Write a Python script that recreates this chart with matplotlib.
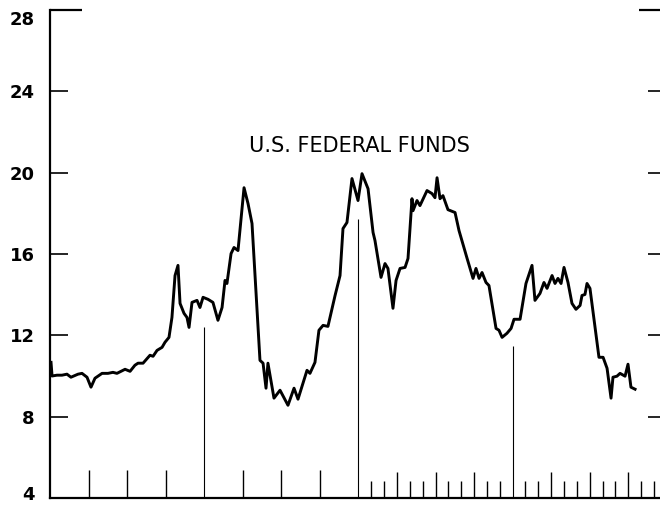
import matplotlib
matplotlib.use("Agg")
import matplotlib.pyplot as plt
import matplotlib.transforms as mtransforms
import numpy as np

# month index (0 = left axis) and rate
months = [0.08, 0.16, 0.54, 0.93, 1.32, 1.63, 2.18, 2.49, 2.88, 3.19, 3.50, 4.05,
          4.51, 4.90, 5.21, 5.84, 6.23, 6.61, 6.85, 7.24, 7.78, 8.02, 8.33, 8.72,
          8.95, 9.26, 9.49, 9.73, 9.96, 10.12, 10.43, 10.66, 10.82, 11.05, 11.44,
          11.67, 11.91, 12.30, 12.68, 13.07, 13.39, 13.62, 13.77, 14.09, 14.32,
          14.63, 15.10, 15.41, 15.72, 16.34, 16.58, 16.81, 16.96, 17.43, 17.90,
          18.52, 18.99, 19.30, 20.00, 20.23, 20.62, 20.93, 21.25, 21.63, 22.18,
          22.57, 22.80, 23.11, 23.50, 23.97, 24.28, 24.75, 25.14, 25.29, 25.76,
          26.07, 26.30, 26.69, 26.93, 27.24, 27.63, 27.86, 28.17, 28.25, 28.56,
          28.79, 29.34, 29.73, 29.96, 30.12, 30.35, 30.58, 30.97, 31.52, 31.83,
          32.45, 32.92, 33.15, 33.39, 33.62, 33.93, 34.16, 34.71, 34.94, 35.18,
          35.56, 35.88, 36.11, 36.58, 37.04, 37.51, 37.74, 38.13, 38.44, 38.68,
          39.07, 39.30, 39.53, 39.77, 40.00, 40.31, 40.62, 40.93, 41.25, 41.40,
          41.63, 41.79, 42.02, 42.72, 43.04, 43.35, 43.66, 43.81, 44.12, 44.36,
          44.75, 44.98, 45.21, 45.53]
rates = [10.67, 10.00, 10.04, 10.04, 10.09, 9.94, 10.09, 10.13, 9.94, 9.45, 9.89, 10.13,
         10.13, 10.18, 10.13, 10.33, 10.23, 10.53, 10.63, 10.63, 11.02, 10.97, 11.26, 11.41,
         11.66, 11.90, 12.88, 14.94, 15.44, 13.57, 13.08, 12.88, 12.39, 13.62, 13.72,
         13.37, 13.87, 13.77, 13.62, 12.74, 13.37, 14.70, 14.55, 16.02, 16.32,
         16.17, 19.26, 18.48, 17.50, 10.77, 10.63, 9.40, 10.63, 8.91, 9.30,
         8.56, 9.40, 8.86, 10.28, 10.13, 10.67, 12.25, 12.49, 12.44, 13.95,
         14.94, 17.25, 17.55, 19.71, 18.63, 19.95, 19.21, 17.06, 16.66, 14.85,
         15.53, 15.29, 13.33, 14.70, 15.29, 15.34, 15.78, 18.72, 18.13, 18.63,
         18.38, 19.12, 18.97, 18.77, 19.75, 18.72, 18.87, 18.18, 18.04, 17.15,
         15.80, 14.80, 15.29, 14.80, 15.09, 14.60, 14.45, 12.34, 12.25, 11.90,
         12.10, 12.34, 12.79, 12.79, 14.55, 15.44, 13.72, 14.06, 14.60, 14.31,
         14.94, 14.55, 14.80, 14.55, 15.34, 14.60, 13.57, 13.28, 13.47, 13.96,
         14.01, 14.55, 14.31, 10.92, 10.92, 10.38, 8.91, 9.94, 9.99, 10.13,
         9.99, 10.58, 9.45, 9.35]

y_ticks = [4, 8, 12, 16, 20, 24, 28]
year_marks = [12, 24, 36]
year_heights = [12.4, 17.7, 11.5]
title = "U.S. FEDERAL FUNDS"

fig = plt.figure(figsize=(6.6, 5.05), dpi=100)
ax = fig.add_axes([50 / 660, 7 / 505, 610 / 660, 488 / 505])
ax.set_xlim(0, 47.47)
ax.set_ylim(4, 28)

# data line
ax.plot(months, rates, color="black", lw=2.1, solid_joinstyle="round")

# baseline ticks: quarterly in the first two years, monthly after
for m in range(1, 48):
    if m in year_marks:
        continue
    if m < 24:
        if m % 3 == 0:
            ax.vlines(m, 4, 5.37, color="black", lw=1.0)
    else:
        h = 5.28 if m % 3 == 0 else 4.83
        ax.vlines(m, 4, h, color="black", lw=1.0)
ax.vlines(year_marks, 4, year_heights, color="black", lw=0.8)

# short line at top and right-side ticks
ax.hlines(28, 0, 2.5, color="black", lw=1.6, clip_on=False)
ax.hlines(28, 45.8, 47.47, color="black", lw=1.6, clip_on=False)
ax.hlines(y_ticks[1:-1], 46.5, 47.47, color="black", lw=1.2, clip_on=False)

ax.text(24.1, 21.3, title, ha="center", va="center", fontsize=15)

for s in ["top", "right"]:
    ax.spines[s].set_visible(False)
ax.spines["left"].set_linewidth(1.6)
ax.spines["bottom"].set_linewidth(1.6)
ax.set_xticks([])
ax.set_yticks(y_ticks)
ax.tick_params(axis="y", direction="in", length=13, width=1.2, pad=11)
labels = ax.get_yticklabels()
for lab in labels:
    lab.set_fontweight("bold")
    lab.set_fontsize(13)
# end labels sit inside the frame
labels[0].set_transform(labels[0].get_transform() +
                        mtransforms.ScaledTranslation(0, 5 / 100, fig.dpi_scale_trans))
labels[-1].set_transform(labels[-1].get_transform() +
                         mtransforms.ScaledTranslation(0, -8 / 100, fig.dpi_scale_trans))

fig.savefig("out.png", dpi=100)
